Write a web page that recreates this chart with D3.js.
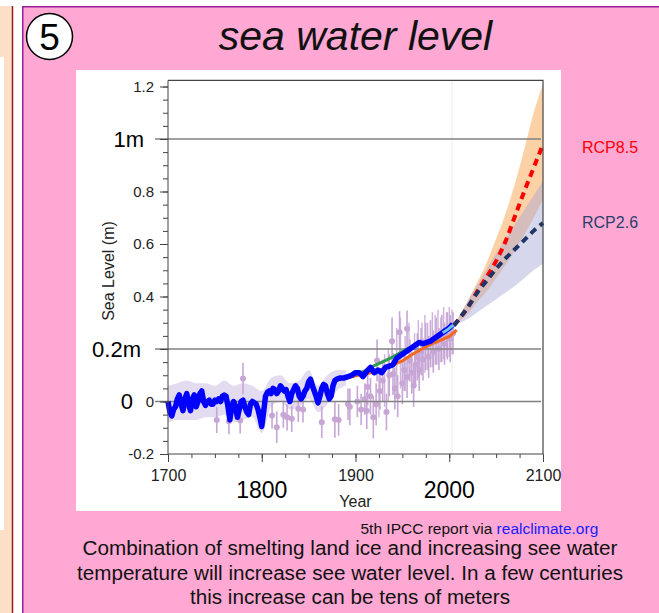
<!DOCTYPE html>
<html><head><meta charset="utf-8">
<script src="https://cdn.jsdelivr.net/npm/d3@7"></script>
<style>body{margin:0;background:#fff;} svg{display:block;font-family:"Liberation Sans",Arial,sans-serif;}</style>
</head><body><svg id="c" width="659" height="613"></svg>
<script>
// ---------- DATA ----------
const blueYears = [1700,1702,1704,1706,1708,1710,1712,1714,1716,1718,1720,1722,1724,1726,1728,1730,1732,1734,1736,1738,1740,1742,1744,1746,1748,1750,1752,1754,1756,1758,1760,1762,1764,1766,1768,1770,1772,1774,1776,1778,1780,1782,1784,1786,1788,1790,1792,1794,1796,1798,1800,1802,1804,1806,1808,1810,1812,1814,1816,1818,1820,1822,1824,1826,1828,1830,1832,1834,1836,1838,1840,1842,1844,1846,1848,1850,1852,1854,1856,1858,1860,1862,1864,1866,1868,1870,1872,1874,1876,1878,1880,1884,1888,1892,1896,1900,1904,1908,1912,1916,1920,1924,1928,1932,1936,1940,1944,1948,1952,1956,1960,1964,1968,1972,1976,1980,1984,1988,1992,1996,2000,2004];
const blueValues = [0.00,-0.04,-0.055,-0.03,-0.02,0.01,0.025,-0.01,-0.035,0.01,0.03,-0.01,-0.035,0.01,0.025,-0.02,0.0,0.03,0.04,0.0,-0.015,0.0,0.005,-0.01,-0.01,0.005,0.0,0.01,0.0,0.02,0.025,0.02,-0.02,-0.07,-0.02,0.0,-0.02,-0.06,-0.03,0.0,0.005,-0.02,-0.04,-0.05,-0.01,0.0,-0.005,-0.01,-0.03,-0.06,-0.095,-0.04,0.02,0.035,0.04,0.03,0.05,0.045,0.03,0.04,0.06,0.05,0.04,0.045,0.02,0.0,0.03,0.045,0.06,0.05,0.02,0.01,0.02,0.04,0.05,0.075,0.085,0.06,0.04,0.02,-0.005,0.02,0.05,0.065,0.06,0.03,0.01,0.02,0.06,0.08,0.085,0.09,0.09,0.095,0.10,0.11,0.11,0.095,0.115,0.13,0.11,0.12,0.11,0.13,0.135,0.14,0.165,0.175,0.185,0.195,0.205,0.215,0.225,0.22,0.225,0.23,0.24,0.25,0.26,0.27,0.28,0.295];

const bandYears = [1700,1710,1720,1730,1740,1750,1760,1770,1780,1790,1800,1810,1820,1830,1840,1850,1860,1870,1880,1890];
const bandLow  = [-0.08,-0.07,-0.07,-0.07,-0.06,-0.06,-0.05,-0.08,-0.07,-0.06,-0.12,-0.02,0.00,-0.03,-0.02,0.01,-0.04,-0.01,0.04,0.06];
const bandHigh = [0.06,0.07,0.08,0.07,0.07,0.06,0.08,0.06,0.07,0.06,0.04,0.09,0.10,0.07,0.08,0.12,0.06,0.10,0.12,0.12];

const dotYears  = [1752,1765,1777,1780,1811,1816,1823,1827,1832,1839,1844,1864,1878,1882,1892,1894,1902,1906,1910,1912,1913,1916,1919,1922,1923,1926,1929,1933,1936,1939,1940,1942,1945,1947,1950,1952,1955,1955,1958,1960,1962,1964,1966,1968,1970,1972,1975,1978,1980,1983,1986,1989,1992,1995,1998,2001,2004];
const dotValues = [-0.07,-0.075,-0.072,0.088,-0.053,-0.098,-0.05,-0.06,-0.066,-0.028,-0.03,-0.079,-0.068,-0.07,-0.01,-0.02,0.0,-0.03,0.01,-0.035,0.055,0.02,-0.06,-0.01,0.156,0.04,0.08,-0.04,0.10,0.23,0.105,0.05,0.02,0.264,0.07,0.12,0.277,0.093,0.156,0.11,0.06,0.14,0.17,0.12,0.19,0.16,0.21,0.17,0.22,0.19,0.23,0.20,0.24,0.22,0.25,0.24,0.26];
const dotErrors = [0.05,0.05,0.05,0.06,0.05,0.06,0.05,0.05,0.05,0.05,0.05,0.06,0.07,0.06,0.06,0.07,0.06,0.06,0.06,0.07,0.07,0.07,0.08,0.08,0.08,0.07,0.08,0.07,0.08,0.09,0.08,0.08,0.08,0.08,0.08,0.08,0.07,0.08,0.08,0.08,0.08,0.08,0.09,0.08,0.09,0.08,0.09,0.08,0.09,0.08,0.09,0.08,0.09,0.08,0.09,0.09,0.08];

// extra error bars without visible dots
const barYears = [1925,1931,1935,1944,1948,1953,1957,1963,1967,1971,1974,1977,1982,1985,1988,1991,1994,1997,2000,2003];
const barLow   = [-0.06,-0.02,0.0,0.03,0.05,0.04,0.08,0.06,0.09,0.10,0.11,0.12,0.13,0.14,0.14,0.15,0.16,0.17,0.17,0.18];
const barHigh  = [0.12,0.18,0.20,0.28,0.32,0.25,0.30,0.26,0.31,0.30,0.33,0.30,0.34,0.33,0.35,0.32,0.36,0.34,0.36,0.35];

const greenYears  = [1880,1890,1900,1910,1920,1930,1940,1950,1957];
const greenValues = [0.085,0.092,0.102,0.117,0.137,0.153,0.17,0.19,0.205];
const orangeYears  = [1880,1890,1900,1910,1920,1930,1940,1950,1960,1970,1980,1990,2000,2008];
const orangeValues = [0.082,0.088,0.098,0.105,0.112,0.125,0.14,0.155,0.178,0.198,0.218,0.232,0.248,0.272];
const cyanYears  = [1993,1998,2003,2008];
const cyanValues = [0.262,0.273,0.288,0.30];

const projYears  = [2005,2020,2030,2040,2050,2060,2070,2080,2090,2100];
const rcp85Mean  = [0.29,0.36,0.42,0.475,0.535,0.61,0.705,0.80,0.89,0.98];
const rcp85Low   = [0.29,0.335,0.38,0.42,0.47,0.52,0.575,0.635,0.70,0.77];
const rcp85High  = [0.29,0.385,0.455,0.53,0.62,0.715,0.83,0.96,1.10,1.21];
const rcp26Mean  = [0.29,0.36,0.415,0.46,0.505,0.545,0.58,0.615,0.65,0.68];
const rcp26Low   = [0.29,0.315,0.34,0.365,0.39,0.415,0.44,0.47,0.50,0.525];
const rcp26High  = [0.29,0.385,0.445,0.505,0.565,0.62,0.675,0.73,0.785,0.84];

const yMajorTicks = [-0.2,0,0.2,0.4,0.6,0.8,1.0,1.2];
const yTickLabels = ["-0.2","0","","0.4","0.6","0.8","","1.2"];
const xMajorTicks = [1700,1800,1900,2000,2100];
const xTickLabels = ["1700","","1900","","2100"];
const bigYLabels = ["1m","0.2m","0"];
const bigYValues = [1.0,0.2,0];
const bigXLabels = ["1800","2000"];
const bigXValues = [1800,2000];
const refLines = [1.0,0.2,0];

// ---------- LAYOUT ----------
const svg = d3.select("#c");
svg.append("rect").attr("x",0).attr("y",6).attr("width",12).attr("height",607).attr("fill","#FDDFC7");
svg.append("rect").attr("x",0).attr("y",57).attr("width",4).attr("height",473).attr("fill","#fff");
svg.append("line").attr("x1",12.5).attr("x2",12.5).attr("y1",6).attr("y2",613).attr("stroke","#9B1B1B").attr("stroke-width",1.5);
svg.append("rect").attr("x",22).attr("y",6).attr("width",637).attr("height",607).attr("fill","#FEA8D3");
svg.append("path").attr("d","M22.75,613V6.75H659").attr("fill","none").attr("stroke","#9A1E9A").attr("stroke-width",1.5);

svg.append("circle").attr("cx",49.5).attr("cy",36.5).attr("r",23).attr("fill","#fff").attr("stroke","#000").attr("stroke-width",1.5);
svg.append("text").attr("x",49.5).attr("y",49.5).attr("text-anchor","middle").attr("font-size",37).attr("fill","#000").text("5");
svg.append("text").attr("x",355.5).attr("y",50).attr("text-anchor","middle").attr("font-size",41).attr("font-style","italic").attr("fill","#111").text("sea water level");

svg.append("rect").attr("x",76).attr("y",70).attr("width",485).attr("height",441).attr("fill","#fff");

const x = d3.scaleLinear().domain([1700,2100]).range([168,543]);
const y = d3.scaleLinear().domain([-0.2,1.2]).range([454,86.5]);
const yTop = y(1.223);

const g = svg.append("g");

g.append("line").attr("x1",x(2003)).attr("x2",x(2003)).attr("y1",yTop).attr("y2",y(-0.2)).attr("stroke","#ececec").attr("stroke-width",1);

const area = (lo,hi)=>d3.area().x((d,i)=>x(projYears[i])).y0((d,i)=>y(lo[i])).y1((d,i)=>y(hi[i])).curve(d3.curveMonotoneX)(projYears);
g.append("path").attr("d",area(rcp85Low,rcp85High)).attr("fill","#FDC590").attr("opacity",0.8);
g.append("path").attr("d",area(rcp26Low,rcp26High)).attr("fill","#A4A4D6").attr("opacity",0.45);

g.append("path").attr("d",d3.area().x((d,i)=>x(bandYears[i])).y0((d,i)=>y(bandLow[i])).y1((d,i)=>y(bandHigh[i])).curve(d3.curveMonotoneX)(bandYears))
  .attr("fill","#E0D8F0").attr("opacity",0.9);

barYears.forEach((yr,i)=>{
  g.append("line").attr("x1",x(yr)).attr("x2",x(yr)).attr("y1",y(barLow[i])).attr("y2",y(barHigh[i]))
    .attr("stroke","#C7A6D6").attr("stroke-width",1.4).attr("opacity",0.85);
});
dotYears.forEach((yr,i)=>{
  g.append("line").attr("x1",x(yr)).attr("x2",x(yr)).attr("y1",y(dotValues[i]-dotErrors[i])).attr("y2",y(dotValues[i]+dotErrors[i]))
    .attr("stroke","#C7A6D6").attr("stroke-width",1.6);
});
dotYears.forEach((yr,i)=>{
  g.append("circle").attr("cx",x(yr)).attr("cy",y(dotValues[i])).attr("r",3).attr("fill","#C7A6D6");
});

refLines.forEach(v=>{
  g.append("line").attr("x1",155).attr("x2",541).attr("y1",y(v)).attr("y2",y(v)).attr("stroke","#808080").attr("stroke-width",1.5);
});

const line = (xs,vs)=>d3.line().x((d,i)=>x(xs[i])).y((d,i)=>y(vs[i]))(xs);
g.append("path").attr("d",line(greenYears,greenValues)).attr("fill","none").attr("stroke","#2E9B50").attr("stroke-width",3);
g.append("path").attr("d",line(orangeYears,orangeValues)).attr("fill","none").attr("stroke","#F26A1E").attr("stroke-width",3);
g.append("path").attr("d",line(blueYears,blueValues)).attr("fill","none").attr("stroke","#0000FF").attr("stroke-width",5.5).attr("stroke-linejoin","round");
g.append("path").attr("d",line(cyanYears,cyanValues)).attr("fill","none").attr("stroke","#6CC6EA").attr("stroke-width",3);

const pline = vs=>d3.line().x((d,i)=>x(projYears[i])).y((d,i)=>y(vs[i])).curve(d3.curveMonotoneX)(projYears);
g.append("path").attr("d",pline(rcp85Mean)).attr("fill","none").attr("stroke","#FF0000").attr("stroke-width",4).attr("stroke-dasharray","7,5");
g.append("path").attr("d",pline(rcp26Mean)).attr("fill","none").attr("stroke","#1F3566").attr("stroke-width",4).attr("stroke-dasharray","7,5");

g.append("path").attr("d",`M${x(1700)},${yTop}H${x(2100)}V${y(-0.2)}`).attr("fill","none").attr("stroke","#444").attr("stroke-width",1.2);

const yMinor = d3.range(-0.2,1.2001,0.05).map(v=>+v.toFixed(2));
const ax = svg.append("g");
ax.append("g").attr("transform",`translate(${x(1700)},0)`).call(d3.axisLeft(y).tickValues(yMinor).tickSize(5).tickFormat(""))
  .call(s=>s.select(".domain").remove()).selectAll("line").attr("stroke","#444");
ax.append("g").attr("transform",`translate(${x(1700)},0)`)
  .call(d3.axisLeft(y).tickValues(yMajorTicks).tickSize(8).tickPadding(6).tickFormat((d,i)=>yTickLabels[i]))
  .call(s=>{s.select(".domain").attr("stroke","#444").attr("d",`M0,${yTop}V${y(-0.2)}`);
            s.selectAll("line").attr("stroke","#444");
            s.selectAll("text").attr("font-size",15).attr("fill","#222").attr("font-family","Liberation Sans, Arial, sans-serif");});

const xMinor = d3.range(1700,2101,25);
ax.append("g").attr("transform",`translate(0,${y(-0.2)})`).call(d3.axisBottom(x).tickValues(xMinor).tickSize(4).tickFormat(""))
  .call(s=>s.select(".domain").remove()).selectAll("line").attr("stroke","#444");
ax.append("g").attr("transform",`translate(0,${y(-0.2)})`)
  .call(d3.axisBottom(x).tickValues(xMajorTicks).tickSize(8).tickPadding(8).tickFormat((d,i)=>xTickLabels[i]))
  .call(s=>{s.select(".domain").attr("stroke","#444").attr("d",`M${x(1700)},0H${x(2100)}`);
            s.selectAll("line").attr("stroke","#444");
            s.selectAll("text").attr("font-size",16).attr("fill","#222").attr("font-family","Liberation Sans, Arial, sans-serif");});

const bigYRight = [144,141,133];
bigYLabels.forEach((t,i)=>{
  svg.append("text").attr("x",bigYRight[i]).attr("y",y(bigYValues[i])).attr("dy","0.36em").attr("text-anchor","end")
    .attr("font-size",22).attr("fill","#000").text(t);
});
bigXLabels.forEach((t,i)=>{
  svg.append("text").attr("x",x(bigXValues[i])).attr("y",498).attr("text-anchor","middle").attr("font-size",23).attr("fill","#000").text(t);
});
svg.append("text").attr("x",x(1900)).attr("y",507).attr("text-anchor","middle").attr("font-size",16).attr("fill","#222").text("Year");
svg.append("text").attr("transform","translate(113.5,271) rotate(-90)").attr("text-anchor","middle").attr("font-size",16).attr("fill","#222").text("Sea Level (m)");

svg.append("text").attr("x",582).attr("y",153).attr("font-size",16).attr("fill","#FF0000").text("RCP8.5");
svg.append("text").attr("x",582).attr("y",228).attr("font-size",16).attr("fill","#2B3F6B").text("RCP2.6");

const src = svg.append("text").attr("x",360.5).attr("y",534).attr("font-size",15.5).attr("fill","#111");
src.append("tspan").text("5th IPCC report via ");
src.append("tspan").attr("fill","#1A1AFF").text("realclimate.org");
const cap = ["Combination of smelting land ice and increasing see water","temperature will increase see water level. In a few centuries","this increase can be tens of meters"];
const capWidths = [535,546,320];
[555,580,604].forEach((yy,i)=>{
  svg.append("text").attr("x",350).attr("y",yy).attr("text-anchor","middle").attr("font-size",19.5)
    .attr("textLength",capWidths[i]).attr("lengthAdjust","spacingAndGlyphs").attr("fill","#111").text(cap[i]);
});
</script></body></html>
